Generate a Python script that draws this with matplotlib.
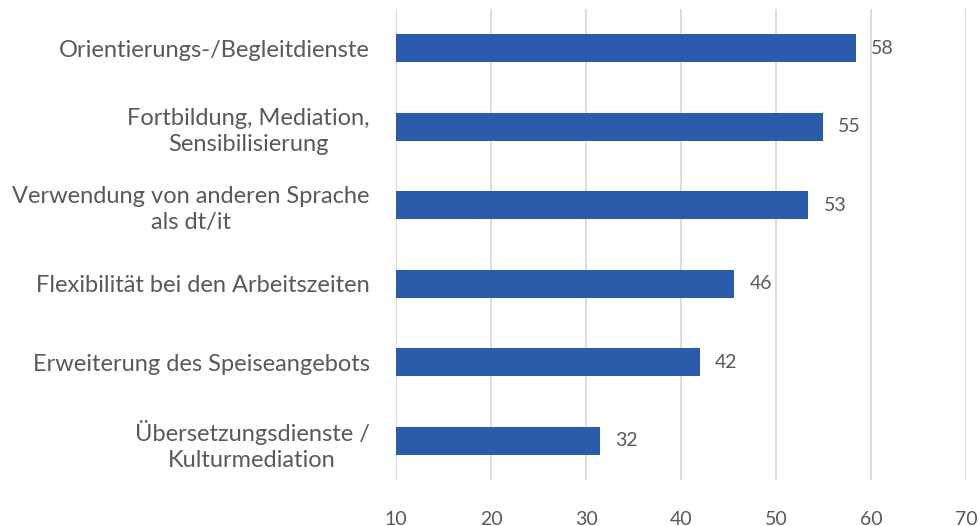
import matplotlib
matplotlib.use("Agg")
import matplotlib.pyplot as plt

categories = [
    "Orientierungs-/Begleitdienste",
    "Fortbildung, Mediation,\nSensibilisierung",
    "Verwendung von anderen Sprache\nals dt/it",
    "Flexibilität bei den Arbeitszeiten",
    "Erweiterung des Speiseangebots",
    "Übersetzungsdienste /\nKulturmediation",
]
values = [58.4, 54.9, 53.4, 45.6, 42.0, 31.5]
x_ticks = [10, 20, 30, 40, 50, 60, 70]

bar_color = "#2B5CAB"
text_color = "#595959"
grid_color = "#D9D9D9"

plt.rcParams["font.family"] = ["Lato", "DejaVu Sans"]

fig = plt.figure(figsize=(9.8, 5.26), dpi=100, facecolor="white")
ax = fig.add_axes([396 / 980, 1 - 480 / 526, 570 / 980, 471 / 526])

pos = list(range(len(categories)))
ax.barh(pos, [v - 10 for v in values], left=10, height=0.36, color=bar_color, zorder=3)
for p, v in zip(pos, values):
    ax.text(v + 1.6, p, f"{v:.0f}", va="center", ha="left", fontsize=14, color=text_color)

ax.set_xlim(10, 70)
ax.set_ylim(len(categories) - 0.5, -0.5)
ax.set_xticks(x_ticks)
ax.set_yticks(pos)
ax.set_yticklabels(categories)
for lbl in ax.get_yticklabels():
    lbl.set_multialignment("center")
    lbl.set_linespacing(1.3)

ax.tick_params(axis="y", length=0, pad=19, labelsize=17, labelcolor=text_color)
ax.tick_params(axis="x", length=0, pad=22, labelsize=14, labelcolor=text_color)
ax.grid(True, axis="x", color=grid_color, linewidth=1.3, zorder=0)
for s in ax.spines.values():
    s.set_visible(False)

fig.savefig("out.png", dpi=100, facecolor="white")
